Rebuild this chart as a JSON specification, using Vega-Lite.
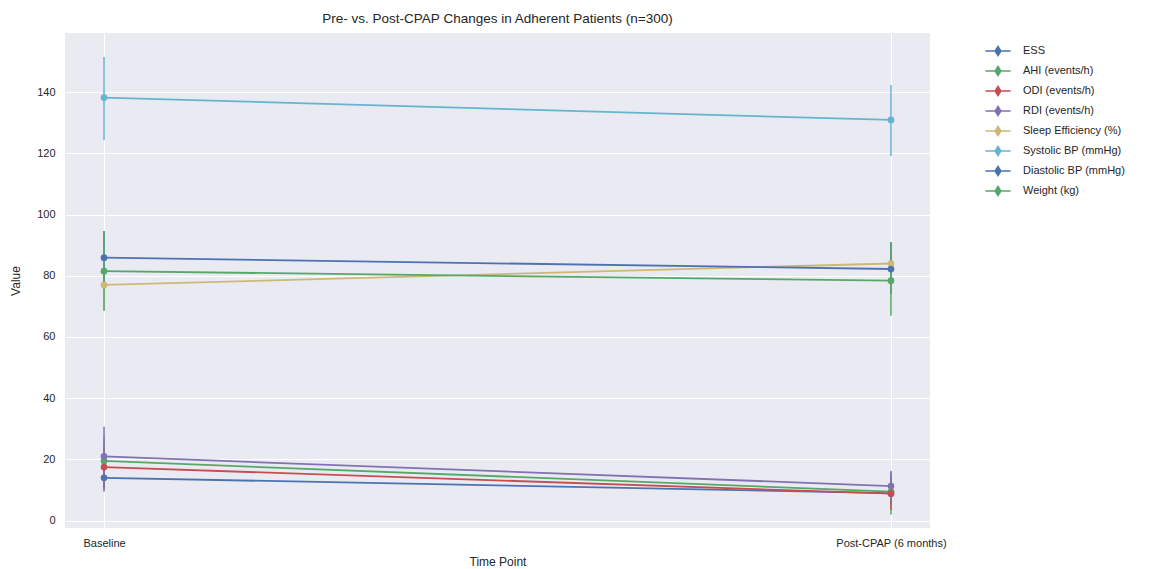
{
  "$schema": "https://vega.github.io/schema/vega-lite/v6.json",
  "width": 865,
  "height": 495,
  "autosize": {"type": "none"},
  "padding": {"left": 65, "top": 33, "right": 219, "bottom": 41},
  "background": "white",
  "title": {"text": "Pre- vs. Post-CPAP Changes in Adherent Patients (n=300)", "font": "Liberation Sans", "fontSize": 13.5, "fontWeight": "normal", "color": "#262626", "offset": 8},
  "config": {
    "view": {"fill": "#EAEAF2", "stroke": null},
    "axis": {"grid": true, "gridColor": "white", "gridWidth": 1, "domain": false, "ticks": false, "labelFont": "Liberation Sans", "labelFontSize": 11, "labelColor": "#262626", "titleFont": "Liberation Sans", "titleFontSize": 12, "titleFontWeight": "normal", "titleColor": "#262626"},
    "legend": {"labelFont": "Liberation Sans", "labelFontSize": 11, "labelColor": "#262626"}
  },
  "data": {"values": [
    {"metric": "ESS", "time": "Baseline", "mean": 14, "lo": 9.5, "hi": 18.5},
    {"metric": "ESS", "time": "Post-CPAP (6 months)", "mean": 9, "lo": 5.5, "hi": 12.5},
    {"metric": "AHI (events/h)", "time": "Baseline", "mean": 19.5, "lo": 11.5, "hi": 27.5},
    {"metric": "AHI (events/h)", "time": "Post-CPAP (6 months)", "mean": 9.5, "lo": 2, "hi": 16},
    {"metric": "ODI (events/h)", "time": "Baseline", "mean": 17.5, "lo": 10.5, "hi": 24.5},
    {"metric": "ODI (events/h)", "time": "Post-CPAP (6 months)", "mean": 8.8, "lo": 3.5, "hi": 14},
    {"metric": "RDI (events/h)", "time": "Baseline", "mean": 21, "lo": 11, "hi": 30.7},
    {"metric": "RDI (events/h)", "time": "Post-CPAP (6 months)", "mean": 11.3, "lo": 6.5, "hi": 16.3},
    {"metric": "Sleep Efficiency (%)", "time": "Baseline", "mean": 77, "lo": 69, "hi": 85},
    {"metric": "Sleep Efficiency (%)", "time": "Post-CPAP (6 months)", "mean": 84, "lo": 78, "hi": 90},
    {"metric": "Systolic BP (mmHg)", "time": "Baseline", "mean": 138.2, "lo": 124.3, "hi": 151.5},
    {"metric": "Systolic BP (mmHg)", "time": "Post-CPAP (6 months)", "mean": 130.9, "lo": 119.1, "hi": 142.3},
    {"metric": "Diastolic BP (mmHg)", "time": "Baseline", "mean": 85.9, "lo": 77, "hi": 94.6},
    {"metric": "Diastolic BP (mmHg)", "time": "Post-CPAP (6 months)", "mean": 82.2, "lo": 74, "hi": 91},
    {"metric": "Weight (kg)", "time": "Baseline", "mean": 81.5, "lo": 68.5, "hi": 94.6},
    {"metric": "Weight (kg)", "time": "Post-CPAP (6 months)", "mean": 78.4, "lo": 66.9, "hi": 91}
  ]},
  "encoding": {
    "x": {"field": "time", "type": "nominal", "sort": ["Baseline", "Post-CPAP (6 months)"], "scale": {"type": "point", "padding": 0.0496}, "axis": {"title": "Time Point", "labelAngle": 0, "labelPadding": 9, "titlePadding": 8}},
    "color": {"field": "metric", "type": "nominal", "sort": ["ESS", "AHI (events/h)", "ODI (events/h)", "RDI (events/h)", "Sleep Efficiency (%)", "Systolic BP (mmHg)", "Diastolic BP (mmHg)", "Weight (kg)"],
      "scale": {"range": ["#4C72B0", "#55A868", "#C44E52", "#8172B2", "#CCB974", "#64B5CD", "#4C72B0", "#55A868"]},
      "legend": {"title": null, "orient": "none", "legendX": 923, "legendY": 8, "symbolType": "M-1.4,0H1.4M0,-0.5L0.32,0L0,0.5L-0.32,0Z", "symbolSize": 324, "symbolStrokeWidth": 1.5, "rowPadding": 2, "labelOffset": 15}
    }
  },
  "layer": [
    {"mark": {"type": "rule", "strokeWidth": 1.5},
     "encoding": {"y": {"field": "lo", "type": "quantitative"}, "y2": {"field": "hi"}}},
    {"mark": {"type": "line", "strokeWidth": 1.8},
     "encoding": {"y": {"field": "mean", "type": "quantitative", "scale": {"domain": [-2.4, 159.3], "nice": false, "zero": false}, "axis": {"title": "Value", "values": [0, 20, 40, 60, 80, 100, 120, 140], "labelPadding": 10, "titlePadding": 14}}}},
    {"mark": {"type": "point", "filled": true, "size": 45, "opacity": 1},
     "encoding": {"y": {"field": "mean", "type": "quantitative"}}}
  ]
}
